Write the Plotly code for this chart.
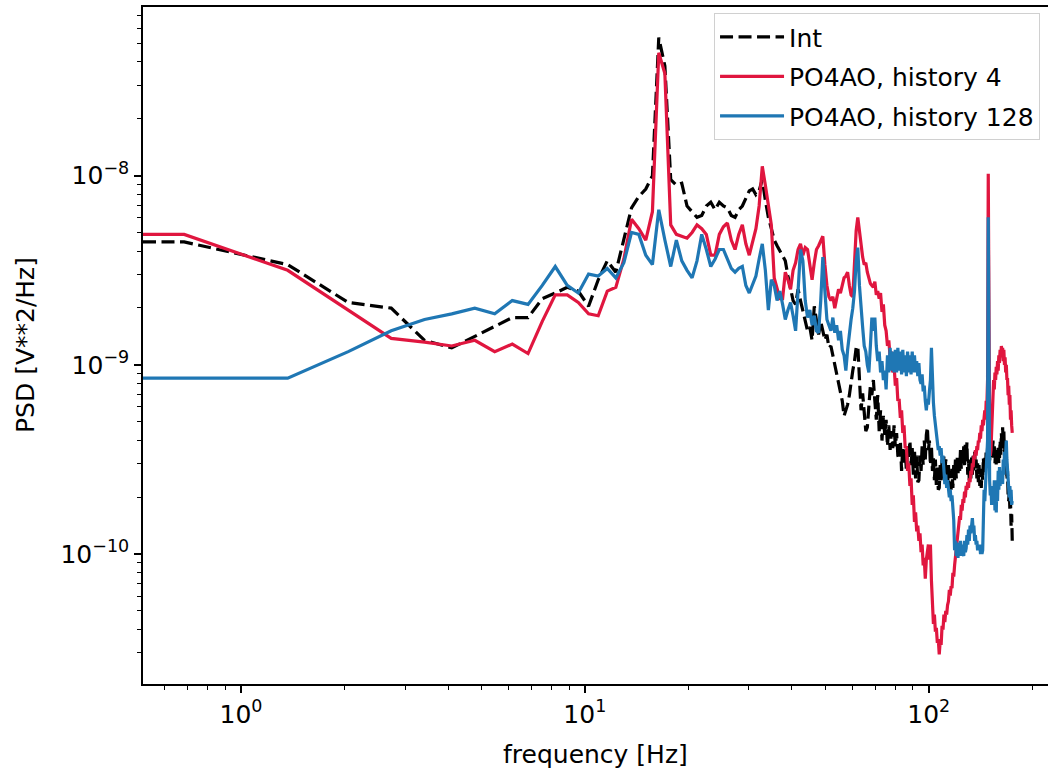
import numpy as np
import plotly.graph_objects as go

# Welch frequency grid: 350 Hz sampling, 512-point segments -> 257 bins (0 .. 175 Hz)
FS = 350.0
NFFT = 512
freqs = np.fft.rfftfreq(NFFT, d=1.0 / FS)

# Power spectral densities in dB re 1 V**2/Hz, one value per frequency bin
psd_int_db = [
    -83.5, -83.5, -84.7, -86.7, -87.0, -88.7, -89.1, -88.5, -88.0, -87.5,
    -87.5, -86.5, -86.2, -85.9, -86.1, -86.9, -85.5, -84.5, -85.1, -83.4,
    -81.7, -81.1, -80.7, -80.0, -72.7, -74.2, -80.2, -80.5, -80.4, -81.6,
    -81.9, -82.2, -82.1, -81.6, -81.4, -81.8, -81.4, -81.6, -81.7, -82.1,
    -82.2, -81.8, -81.6, -81.2, -80.8, -80.7, -81.0, -80.8, -80.2, -81.3,
    -82.2, -82.8, -83.4, -83.7, -84.0, -84.2, -84.5, -85.3, -86.0, -86.6,
    -86.8, -86.0, -86.6, -87.2, -87.6, -88.2, -88.0, -88.7, -86.9, -87.6,
    -88.4, -87.7, -88.2, -88.7, -88.4, -89.1, -89.0, -89.5, -90.0, -90.4,
    -90.8, -91.4, -91.9, -92.7, -92.4, -92.1, -91.6, -90.8, -90.3, -89.8,
    -89.1, -89.0, -90.5, -92.4, -91.5, -92.7, -93.5, -93.3, -92.1, -91.1,
    -91.6, -90.8, -91.9, -92.9, -91.6, -93.5, -92.4, -94.0, -92.7, -93.7,
    -92.9, -94.3, -93.2, -94.5, -93.5, -94.4, -93.2, -94.3, -93.6, -94.8,
    -95.0, -94.0, -95.6, -94.3, -95.3, -94.5, -95.6, -94.3, -95.0, -94.0,
    -95.3, -94.4, -95.8, -94.5, -96.0, -94.8, -96.2, -96.1, -94.8, -95.6,
    -94.3, -95.3, -94.0, -95.0, -93.7, -93.3, -94.5, -94.0, -95.3, -94.3,
    -95.6, -94.9, -96.1, -95.0, -96.4, -95.3, -96.6, -96.5, -95.3, -96.1,
    -95.0, -96.0, -94.8, -95.8, -95.0, -95.4, -96.4, -95.3, -96.5, -95.6,
    -96.6, -95.5, -96.5, -95.3, -96.1, -95.0, -96.0, -94.8, -95.8, -94.9,
    -95.6, -94.5, -95.5, -94.4, -95.2, -94.3, -95.3, -94.1, -95.0, -94.1,
    -95.8, -95.0, -96.1, -95.2, -96.0, -94.9, -95.8, -94.8, -95.6, -94.6,
    -95.5, -95.0, -96.0, -95.2, -96.2, -95.3, -96.4, -95.5, -96.5, -95.6,
    -96.1, -94.9, -95.8, -94.8, -95.6, -94.5, -95.3, -94.4, -95.0, -94.3,
    -95.2, -94.0, -94.9, -94.0, -94.8, -94.0, -94.9, -94.3, -95.2, -94.4,
    -95.3, -94.5, -95.0, -94.3, -95.2, -95.0, -94.0, -94.8, -93.6, -94.5,
    -93.3, -94.3, -93.5, -94.8, -94.0, -95.3, -94.5, -96.1, -95.6, -96.9,
    -97.2, -96.6, -97.7, -97.2, -98.5, -97.9, -99.3,
]

psd_h4_db = [
    -83.1, -83.1, -85.0, -87.1, -88.6, -88.8, -89.0, -88.7, -89.3, -88.9,
    -89.4, -87.7, -86.3, -86.3, -86.7, -87.3, -87.4, -86.1, -85.9, -84.4,
    -82.3, -82.8, -83.4, -81.9, -73.5, -74.6, -82.6, -83.1, -83.2, -83.3,
    -83.0, -82.6, -82.8, -83.1, -84.2, -84.2, -83.1, -82.7, -82.5, -83.4,
    -83.9, -83.1, -82.6, -83.6, -84.2, -83.5, -82.8, -81.6, -79.5, -80.5,
    -81.6, -82.6, -85.4, -86.0, -86.5, -86.5, -85.1, -85.5, -86.0, -85.0,
    -84.6, -83.9, -83.6, -84.2, -83.8, -83.9, -84.7, -85.5, -84.6, -83.9,
    -83.7, -83.4, -83.2, -84.7, -85.8, -86.4, -86.6, -86.4, -87.0, -86.5,
    -86.0, -86.2, -85.7, -85.4, -85.3, -85.1, -85.8, -86.3, -86.4, -84.5,
    -82.9, -82.2, -83.0, -83.9, -84.3, -84.7, -84.6, -85.1, -85.4, -85.7,
    -85.8, -85.9, -85.6, -86.3, -86.1, -86.5, -86.2, -87.2, -86.8, -87.9,
    -88.2, -89.0, -88.7, -89.6, -89.3, -90.4, -90.0, -91.1, -90.7, -91.9,
    -91.8, -92.8, -92.4, -93.6, -93.2, -94.4, -94.3, -95.6, -95.2, -96.4,
    -96.0, -97.4, -96.9, -98.3, -97.8, -98.8, -98.5, -99.3, -98.9, -99.9,
    -99.5, -100.6, -100.2, -101.3, -100.3, -99.7, -99.5, -100.3, -99.5, -101.4,
    -102.5, -103.7, -103.2, -104.1, -103.9, -104.7, -104.5, -105.3, -104.6, -104.8,
    -103.8, -104.0, -103.2, -103.6, -103.0, -103.2, -102.7, -102.5, -101.9, -102.2,
    -101.7, -101.8, -101.0, -101.2, -100.6, -100.1, -99.5, -99.0, -98.6, -98.3,
    -98.0, -98.2, -97.4, -97.7, -97.1, -97.3, -96.7, -97.0, -96.4, -96.6,
    -96.2, -96.5, -96.0, -96.2, -95.6, -95.8, -95.2, -95.4, -94.8, -95.0,
    -94.5, -94.8, -94.3, -94.5, -94.0, -94.1, -93.6, -93.9, -93.2, -93.5,
    -92.9, -93.2, -92.7, -92.4, -92.9, -91.9, -92.1, -90.8, -79.9, -91.9,
    -93.5, -94.8, -94.5, -93.5, -92.4, -91.6, -90.8, -91.3, -90.4, -90.8,
    -90.1, -90.5, -89.8, -90.3, -89.5, -89.9, -89.2, -89.6, -89.0, -89.3,
    -89.1, -89.8, -89.2, -90.0, -89.6, -90.4, -90.0, -90.8, -90.7, -91.6,
    -91.1, -92.1, -91.6, -92.9, -92.4, -93.2, -93.6,
]

psd_h128_db = [
    -90.7, -90.7, -90.7, -89.3, -88.2, -87.6, -87.3, -87.0, -87.3, -86.6,
    -86.8, -85.8, -84.8, -85.8, -86.2, -85.2, -85.3, -84.9, -85.4, -84.6,
    -83.0, -83.1, -84.2, -84.7, -81.8, -83.4, -84.8, -83.4, -84.5, -85.0,
    -85.4, -84.5, -83.1, -83.9, -84.8, -84.4, -83.9, -83.9, -84.4, -84.9,
    -85.1, -84.9, -84.8, -85.8, -86.2, -85.7, -85.3, -84.4, -83.6, -85.0,
    -87.1, -85.5, -85.8, -86.6, -86.1, -86.8, -87.6, -87.1, -86.7, -87.4,
    -88.2, -86.1, -83.9, -84.5, -86.6, -87.5, -87.1, -87.9, -87.4, -88.2,
    -88.3, -86.6, -84.3, -86.1, -87.6, -87.9, -88.2, -87.5, -88.3, -87.9,
    -88.7, -88.2, -89.2, -89.5, -90.3, -89.2, -88.2, -87.6, -87.0, -86.1,
    -84.5, -83.8, -85.8, -87.1, -88.0, -89.0, -89.3, -90.0, -90.4, -89.0,
    -87.5, -88.2, -87.5, -89.0, -89.8, -89.3, -90.4, -89.8, -90.8, -90.3,
    -91.3, -89.5, -90.4, -89.1, -90.3, -89.3, -90.4, -89.2, -90.4, -89.1,
    -90.3, -89.3, -90.5, -89.2, -90.4, -89.5, -90.6, -89.3, -90.4, -89.5,
    -90.5, -89.3, -90.4, -89.5, -90.4, -89.8, -90.6, -89.9, -90.8, -91.0,
    -90.5, -91.4, -91.1, -91.9, -92.4, -91.8, -92.1, -91.4, -90.8, -89.1,
    -91.3, -92.0, -92.7, -93.2, -93.6, -94.0, -94.5, -94.3, -94.8, -94.4,
    -95.2, -94.8, -95.6, -96.3, -95.8, -96.5, -96.1, -96.7, -97.0, -96.6,
    -97.2, -96.9, -97.5, -98.2, -99.8, -99.3, -100.1, -99.5, -100.2, -99.4,
    -100.0, -99.3, -100.1, -99.5, -100.0, -100.1, -99.3, -99.9, -99.7, -99.0,
    -99.5, -98.7, -99.3, -98.5, -98.9, -98.2, -98.1, -98.7, -98.5, -99.3,
    -99.0, -99.5, -99.3, -99.8, -99.5, -99.8, -99.5, -100.0, -99.7, -100.0,
    -99.8, -98.2, -96.6, -97.2, -96.1, -95.6, -94.8, -94.0, -82.2, -94.5,
    -96.1, -96.9, -96.4, -97.4, -96.9, -96.6, -97.4, -96.1, -97.7, -96.6,
    -97.8, -96.1, -97.2, -95.6, -96.6, -95.4, -96.4, -95.6, -96.1, -95.8,
    -96.3, -95.0, -95.8, -94.6, -95.3, -94.3, -94.0, -95.0, -95.6, -96.1,
    -96.7, -97.0, -96.4, -97.2, -96.6, -97.4, -97.2,
]

series_names = ["Int", "PO4AO, history 4", "PO4AO, history 128"]
series_colors = ["black", "#e0163f", "#1f77b4"]
series_dash = ["13px,5.5px", "solid", "solid"]

# axis limits (log10 units)
X_RANGE = [-0.285, 2.347]
Y_RANGE = [-10.687, -7.108]

x_ticks = [1, 10, 100]
x_ticktext = ["10<sup>0</sup>", "10<sup>1</sup>", "10<sup>2</sup>"]
y_ticks = [1e-10, 1e-9, 1e-8]
y_ticktext = ["10<sup>\u221210</sup>", "10<sup>\u22129</sup>", "10<sup>\u22128</sup>"]


def db_to_psd(db):
    return 10.0 ** (np.asarray(db, dtype=float) / 10.0)


# a log axis cannot place the DC bin; pin it to the left edge like a clipped log plot
x_plot = np.clip(freqs, 10 ** X_RANGE[0], None)

FONT = "DejaVu Sans"
FSIZE = 25

fig = go.Figure()
for name, db, color, dash in zip(series_names, [psd_int_db, psd_h4_db, psd_h128_db],
                                  series_colors, series_dash):
    fig.add_trace(go.Scatter(
        x=x_plot, y=db_to_psd(db), mode="lines", name=name, legendgroup=name,
        line=dict(color=color, width=3.2, dash=dash),
    ))

x_minor = [m * 10.0 ** e for e in range(-1, 3) for m in range(2, 10)]
y_minor = [m * 10.0 ** e for e in range(-11, -7) for m in range(2, 10)]

axis_common = dict(
    showline=True, linecolor="black", linewidth=1.6,
    showgrid=False, zeroline=False,
    ticks="outside", ticklen=7, tickwidth=1.6, tickcolor="black",
    tickfont=dict(family=FONT, size=FSIZE, color="black"),
)

fig.update_layout(
    width=1048, height=771,
    margin=dict(l=143, r=0, t=7, b=87),
    paper_bgcolor="white", plot_bgcolor="white",
    font=dict(family=FONT, color="black"),
    showlegend=True,
    legend=dict(
        x=0.9912, y=0.9911, xanchor="right", yanchor="top",
        bgcolor="rgba(255,255,255,0.8)", bordercolor="#d0d0d0", borderwidth=1,
        font=dict(family=FONT, size=FSIZE, color="black"),
        itemwidth=64, tracegroupgap=4, traceorder="grouped",
    ),
    xaxis=dict(
        type="log", range=X_RANGE, mirror=True,
        tickmode="array", tickvals=x_ticks, ticktext=x_ticktext,
        minor=dict(tickmode="array", tickvals=x_minor, ticks="outside",
                   ticklen=4.5, tickwidth=1.2, tickcolor="black", showgrid=False),
        **axis_common,
    ),
    yaxis=dict(
        type="log", range=Y_RANGE, mirror=False,
        tickmode="array", tickvals=y_ticks, ticktext=y_ticktext,
        minor=dict(tickmode="array", tickvals=y_minor, ticks="outside",
                   ticklen=4.5, tickwidth=1.2, tickcolor="black", showgrid=False),
        **axis_common,
    ),
    annotations=[
        dict(text="frequency [Hz]", xref="paper", yref="paper", x=0.5, y=-0.1034,
             xanchor="center", yanchor="middle", showarrow=False,
             font=dict(family=FONT, size=FSIZE, color="black")),
        dict(text="PSD [V**2/Hz]", xref="paper", yref="paper", x=-0.1304, y=0.5007,
             xanchor="center", yanchor="middle", textangle=-90, showarrow=False,
             font=dict(family=FONT, size=FSIZE, color="black")),
    ],
)

fig.write_html("out.html")
